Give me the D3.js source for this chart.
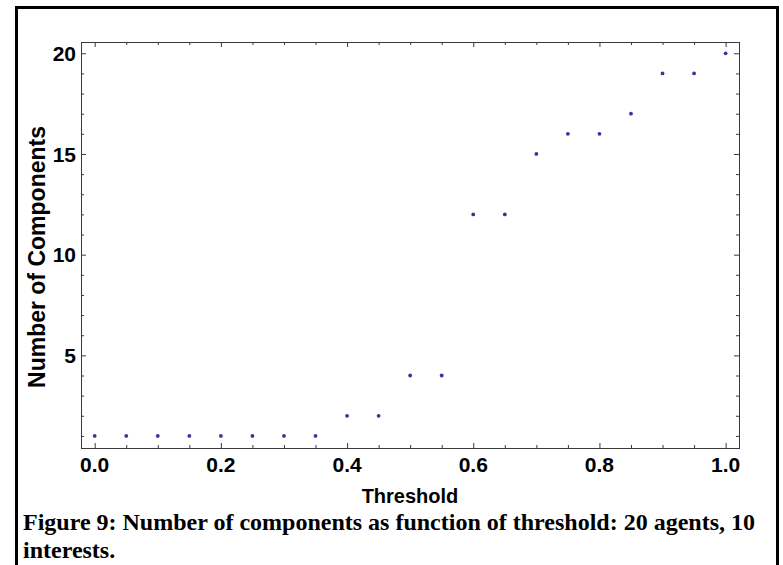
<!DOCTYPE html>
<html>
<head>
<meta charset="utf-8">
<script src="https://cdn.jsdelivr.net/npm/d3@7"></script>
<style>
  html, body { margin: 0; padding: 0; background: #fff; }
  svg { display: block; }
</style>
</head>
<body>
<svg id="chart" width="783" height="565"></svg>
<script>
// Threshold values and the resulting number of connected components
const thresholds = [0.00, 0.05, 0.10, 0.15, 0.20, 0.25, 0.30, 0.35, 0.40, 0.45,
                    0.50, 0.55, 0.60, 0.65, 0.70, 0.75, 0.80, 0.85, 0.90, 0.95, 1.00];
const components = [1, 1, 1, 1, 1, 1, 1, 1, 2, 2,
                    4, 4, 12, 12, 15, 16, 16, 17, 19, 19, 20];

const xMajorTicks = [0, 0.2, 0.4, 0.6, 0.8, 1.0];
const xMinorTicks = d3.range(0, 1.0001, 0.05).map(v => +v.toFixed(2));
const yMajorTicks = [5, 10, 15, 20];
const yMinorTicks = d3.range(1, 21);

const xTitle = "Threshold";
const yTitle = "Number of Components";
const captionLines = [
  "Figure 9: Number of components as function of threshold: 20 agents, 10",
  "interests."
];

const svg = d3.select("#chart");

// Outer figure box
svg.append("rect")
  .attr("x", 16.5).attr("y", 7.5)
  .attr("width", 761).attr("height", 570)
  .attr("fill", "none").attr("stroke", "#000").attr("stroke-width", 3);

const frame = { left: 81, right: 739, top: 42, bottom: 448 };

const x = d3.scaleLinear().domain([-0.0217, 1.0212]).range([frame.left, frame.right]);
const y = d3.scaleLinear().domain([0.40, 20.56]).range([frame.bottom, frame.top]);

const axisColor = "#3a3a3a";
const fontFamily = "'Liberation Sans', Arial, Helvetica, sans-serif";

// Axes: ticks point inward, mirrored on the opposite side
function addAxis(axis, transform) {
  const g = svg.append("g").attr("transform", transform).call(axis);
  g.select(".domain").remove();
  g.selectAll(".tick line").attr("stroke", axisColor).attr("stroke-width", 1);
  g.selectAll(".tick text").remove();
  return g;
}
const majorLen = 5, minorLen = 3;
const minorX = xMinorTicks.filter(v => !xMajorTicks.some(m => Math.abs(m - v) < 1e-9));
const minorY = yMinorTicks.filter(v => !yMajorTicks.includes(v));

addAxis(d3.axisTop(x).tickValues(xMajorTicks).tickSize(majorLen), `translate(0,${frame.bottom})`);
addAxis(d3.axisTop(x).tickValues(minorX).tickSize(minorLen), `translate(0,${frame.bottom})`);
addAxis(d3.axisBottom(x).tickValues(xMajorTicks).tickSize(majorLen), `translate(0,${frame.top})`);
addAxis(d3.axisBottom(x).tickValues(minorX).tickSize(minorLen), `translate(0,${frame.top})`);
addAxis(d3.axisRight(y).tickValues(yMajorTicks).tickSize(majorLen), `translate(${frame.left},0)`);
addAxis(d3.axisRight(y).tickValues(minorY).tickSize(minorLen), `translate(${frame.left},0)`);
addAxis(d3.axisLeft(y).tickValues(yMajorTicks).tickSize(majorLen), `translate(${frame.right},0)`);
addAxis(d3.axisLeft(y).tickValues(minorY).tickSize(minorLen), `translate(${frame.right},0)`);

// Plot frame
svg.append("rect")
  .attr("x", frame.left + 0.5).attr("y", frame.top + 0.5)
  .attr("width", frame.right - frame.left).attr("height", frame.bottom - frame.top)
  .attr("fill", "none").attr("stroke", axisColor).attr("stroke-width", 1);

// Tick labels
svg.append("g").selectAll("text").data(xMajorTicks).join("text")
  .attr("x", d => x(d)).attr("y", frame.bottom + 24)
  .attr("text-anchor", "middle")
  .attr("font-family", fontFamily).attr("font-weight", "bold").attr("font-size", 21)
  .text(d => d3.format(".1f")(d));

svg.append("g").selectAll("text").data(yMajorTicks).join("text")
  .attr("x", frame.left - 5).attr("y", d => y(d))
  .attr("dy", "0.36em")
  .attr("text-anchor", "end")
  .attr("font-family", fontFamily).attr("font-weight", "bold").attr("font-size", 21)
  .text(d => d);

// Axis titles
svg.append("text")
  .attr("x", (frame.left + frame.right) / 2).attr("y", 503)
  .attr("text-anchor", "middle")
  .attr("font-family", fontFamily).attr("font-weight", "bold").attr("font-size", 20)
  .text(xTitle);

svg.append("text")
  .attr("transform", `translate(45,257) rotate(-90)`)
  .attr("text-anchor", "middle")
  .attr("font-family", fontFamily).attr("font-weight", "bold").attr("font-size", 23)
  .text(yTitle);

// Data points
svg.append("g").selectAll("circle")
  .data(thresholds.map((t, i) => ({ t, c: components[i] })))
  .join("circle")
  .attr("cx", d => x(d.t)).attr("cy", d => y(d.c))
  .attr("r", 1.9)
  .attr("fill", "#35359f");

// Caption
svg.append("g").selectAll("text").data(captionLines).join("text")
  .attr("x", 23).attr("y", (d, i) => 530 + i * 28)
  .attr("font-family", "'Liberation Serif', 'Times New Roman', serif")
  .attr("font-weight", "bold").attr("font-size", 24)
  .text(d => d);
</script>
</body>
</html>
